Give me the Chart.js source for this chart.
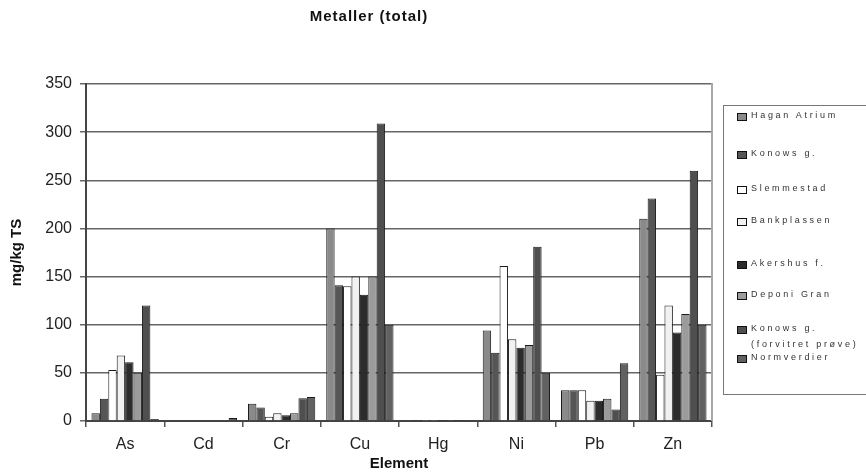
<!DOCTYPE html>
<html lang="no">
<head>
<meta charset="utf-8">
<title>Metaller (total)</title>
<style>
  html, body { margin: 0; padding: 0; background: #fff; overflow: hidden; }
  #wrap { position: relative; width: 866px; height: 473px; }
  #legend {
    position: absolute; left: 723px; top: 105px; width: 170px; height: 290px;
    border: 1px solid #777; box-sizing: border-box;
    font-family: Arial, "Liberation Sans", sans-serif; font-size: 9px;
    letter-spacing: 2.7px; color: #333;
  }
  .item { position: absolute; left: 13px; line-height: 16px; }
  .sw { position: absolute; left: 0; top: 6px; width: 8px; height: 6px; border: 1px solid #111; }
  .txt { position: absolute; left: 14px; top: 0; white-space: nowrap; }
</style>
</head>
<body>
<div id="wrap">
  <canvas id="myChart" width="866" height="473"></canvas>
  <div id="legend"></div>
</div>
<script src="https://cdn.jsdelivr.net/npm/chart.js@4/dist/chart.umd.min.js"></script>
<script>
// data
var elements = ['As', 'Cd', 'Cr', 'Cu', 'Hg', 'Ni', 'Pb', 'Zn'];
var seriesNames = ['Hagan Atrium', 'Konows g.', 'Slemmestad', 'Bankplassen', 'Akershus f.',
                   'Deponi Gran', 'Konows g. (forvitret prøve)', 'Normverdier'];
var haganAtrium  = [8,   0.8, 18,  200, 0.2, 94,  32,  210];
var konowsG      = [23,  0.8, 14,  141, 0.2, 71,  32,  231];
var slemmestad   = [53,  0.8, 4.5, 140, 0.2, 161, 32,  48];
var bankplassen  = [68,  0.8, 8,   150, 0.2, 85,  21,  120];
var akershusF    = [61,  0.8, 6,   131, 0.2, 76,  21,  92];
var deponiGran   = [50,  0.8, 8,   150, 0.2, 79,  23,  111];
var konowsForv   = [120, 0.8, 23.5, 309, 0.2, 181, 12, 260];
var normverdier  = [2,   3,   25,  100, 1,   50,  60,  100];
var yTicks = [0, 50, 100, 150, 200, 250, 300, 350];

var seriesValues = [haganAtrium, konowsG, slemmestad, bankplassen, akershusF, deponiGran, konowsForv, normverdier];
var seriesColors = ['#8a8a8a', '#565656', '#ffffff', '#f1f1f1', '#2c2c2c', '#9b9b9b', '#4f4f4f', '#616161'];
// legend layout: top of each entry inside the box
var legendTops = [1, 39, 74, 106, 149, 180, 214, 243];

var datasets = [];
for (var i = 0; i < seriesNames.length; i++) {
  datasets.push({
    label: seriesNames[i],
    data: seriesValues[i],
    backgroundColor: seriesColors[i],
    borderColor: '#1a1a1a',
    borderWidth: 1,
    borderSkipped: 'bottom'
  });
}

var frame = {
  id: 'frame',
  afterDraw: function(chart) {
    var c = chart.ctx, a = chart.chartArea;
    c.save();
    c.strokeStyle = '#a8a8a8';
    c.lineWidth = 2;
    c.beginPath();
    c.moveTo(a.right, a.top - 1);
    c.lineTo(a.right, a.bottom);
    c.stroke();
    // chart title
    c.fillStyle = '#111';
    c.font = 'bold 15px Arial, "Liberation Sans", sans-serif';
    c.letterSpacing = '1px';
    c.textAlign = 'center';
    c.textBaseline = 'middle';
    c.fillText('Metaller (total)', 369, 17);
    c.restore();
  }
};

var ctx = document.getElementById('myChart').getContext('2d');
var chart = new Chart(ctx, {
  type: 'bar',
  data: { labels: elements, datasets: datasets },
  options: {
    responsive: false,
    animation: false,
    layout: { padding: { top: 84, right: 154, left: 0, bottom: 0 } },
    plugins: { legend: { display: false }, tooltip: { enabled: false } },
    datasets: { bar: { categoryPercentage: 0.86, barPercentage: 1.0 } },
    scales: {
      x: {
        offset: true,
        grid: { display: true, drawOnChartArea: false, offset: true, tickLength: 6, color: '#555', lineWidth: 1.5 },
        border: { color: '#444', width: 2 },
        ticks: { color: '#222', padding: 8, font: { family: 'Arial, "Liberation Sans", sans-serif', size: 16 } },
        title: { display: true, text: 'Element', color: '#111', padding: 0,
                 font: { family: 'Arial, "Liberation Sans", sans-serif', size: 15, weight: 'bold', lineHeight: 1.2 } },
        afterFit: function(s) { s.height = 52; }
      },
      y: {
        min: 0, max: 350,
        afterBuildTicks: function(s) { s.ticks = yTicks.map(function(v) { return { value: v }; }); },
        grid: { color: '#666', lineWidth: 1.5, tickLength: 6 },
        border: { color: '#444', width: 2 },
        ticks: { color: '#222', padding: 8, font: { family: 'Arial, "Liberation Sans", sans-serif', size: 16 } },
        title: { display: true, text: 'mg/kg TS', color: '#111', padding: { top: 8, bottom: 0 },
                 font: { family: 'Arial, "Liberation Sans", sans-serif', size: 15, weight: 'bold', lineHeight: 1.2 } },
        afterFit: function(s) { s.width = 86; }
      }
    }
  },
  plugins: [frame]
});

// html legend built from the datasets
var lg = document.getElementById('legend');
chart.data.datasets.forEach(function(ds, i) {
  var it = document.createElement('div');
  it.className = 'item';
  it.style.top = legendTops[i] + 'px';
  var sw = document.createElement('span');
  sw.className = 'sw';
  sw.style.background = ds.backgroundColor;
  var tx = document.createElement('span');
  tx.className = 'txt';
  if (ds.label.indexOf('(') > 0) {
    var p = ds.label.indexOf('(');
    tx.innerHTML = ds.label.slice(0, p) + '<br>' + ds.label.slice(p);
  } else {
    tx.textContent = ds.label;
  }
  it.appendChild(sw);
  it.appendChild(tx);
  lg.appendChild(it);
});
</script>
</body>
</html>
